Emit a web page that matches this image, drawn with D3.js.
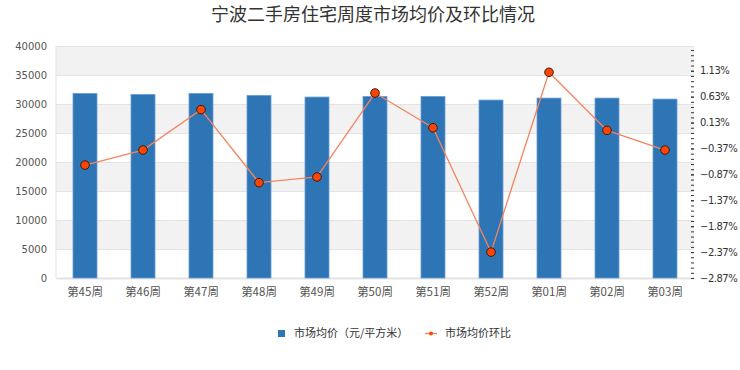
<!DOCTYPE html>
<html>
<head>
<meta charset="utf-8">
<script src="https://cdn.jsdelivr.net/npm/d3@7/dist/d3.min.js"></script>
<style>
  body { margin: 0; background: #fff; }
  svg { font-family: "Noto Sans CJK SC", "DejaVu Sans", sans-serif; }
</style>
</head>
<body>
<svg width="740" height="370"></svg>
<script>
// 周次
const weeks = ["第45周", "第46周", "第47周", "第48周", "第49周", "第50周", "第51周", "第52周", "第01周", "第02周", "第03周"];
// 市场均价 (元/平方米)
const prices = [31830, 31660, 31830, 31490, 31200, 31310, 31310, 30680, 31020, 31020, 30850];
// 市场均价环比 (%)
const changes = [-0.69, -0.40, 0.38, -1.03, -0.92, 0.70, 0.03, -2.37, 1.10, -0.02, -0.40];
// 右轴刻度
const rightTicks = [-2.87, -2.37, -1.87, -1.37, -0.87, -0.37, 0.13, 0.63, 1.13];
const leftTicks = [0, 5000, 10000, 15000, 20000, 25000, 30000, 35000, 40000];

function drawChart() {
    var margin = { top: 46, right: 46, bottom: 92, left: 56 };
    var width = 740 - margin.left - margin.right;
    var height = 370 - margin.top - margin.bottom;

    var svg = d3.select("svg");

    svg.append("text")
        .attr("x", 373)
        .attr("y", 21)
        .attr("text-anchor", "middle")
        .attr("font-size", 18)
        .attr("fill", "#333")
        .text("宁波二手房住宅周度市场均价及环比情况");

    var g = svg.append("g")
        .attr("transform", "translate(" + margin.left + "," + margin.top + ")");

    var x = d3.scaleBand().domain(weeks).range([0, width]);
    var y = d3.scaleLinear().domain([0, 40000]).range([height, 0]);
    var y2 = d3.scaleLinear().domain([-2.87, 1.608]).range([height, 0]);

    // 背景条纹
    for (let i = 0; i < leftTicks.length - 1; i++) {
        g.append("rect")
            .attr("x", 0)
            .attr("width", width)
            .attr("y", y(leftTicks[i + 1]))
            .attr("height", y(leftTicks[i]) - y(leftTicks[i + 1]))
            .attr("fill", i % 2 === 1 ? "#f2f2f2" : "#fff");
    }

    g.append("g")
        .call(d3.axisLeft(y).tickValues(leftTicks).tickSize(-width).tickPadding(9).tickFormat(d3.format("d")))
        .call(g => g.select(".domain").remove())
        .call(g => g.selectAll("line").attr("stroke", "#e3e3e3"))
        .call(g => g.selectAll("text").attr("fill", "#555").attr("font-size", 10).attr("font-family", "DejaVu Sans"));

    g.append("line").attr("x1", 0).attr("x2", 0).attr("y1", 0).attr("y2", height).attr("stroke", "#e3e3e3");

    g.append("g")
        .attr("transform", "translate(0," + height + ")")
        .call(d3.axisBottom(x).tickSize(0).tickPadding(10))
        .call(g => g.select(".domain").attr("stroke", "#e3e3e3").attr("stroke-width", 2))
        .call(g => g.selectAll("text").attr("fill", "#555").attr("font-size", 11.5).attr("font-family", "Noto Sans CJK SC"));

    // 右轴 (刻度朝内)
    var minor = d3.range(-2.87, 1.6, 0.1);
    g.append("g")
        .attr("transform", "translate(" + width + ",0)")
        .call(d3.axisRight(y2).tickValues(minor).tickSize(-3).tickFormat(""))
        .call(g => g.select(".domain").remove())
        .call(g => g.selectAll("line").attr("stroke", "#333"));
    g.append("g")
        .attr("transform", "translate(" + width + ",0)")
        .call(d3.axisRight(y2).tickValues(rightTicks).tickSize(-3).tickPadding(6).tickFormat(d => d3.format(".2f")(d) + "%"))
        .call(g => g.select(".domain").remove())
        .call(g => g.selectAll("line").attr("stroke", "#333"))
        .call(g => g.selectAll("text").attr("fill", "#333").attr("font-size", 10).attr("letter-spacing", "-0.5px").attr("font-family", "DejaVu Sans"));

    var bw = 24;
    g.selectAll(".bar")
        .data(prices)
        .enter().append("rect")
        .attr("x", (d, i) => x(weeks[i]) + x.bandwidth() / 2 - bw / 2)
        .attr("y", d => y(d))
        .attr("width", bw)
        .attr("height", d => height - y(d))
        .attr("fill", "#2e75b6")
        .attr("stroke", "#6b9fd3")
        .attr("stroke-width", 0.8);

    var line = d3.line()
        .x((d, i) => x(weeks[i]) + x.bandwidth() / 2)
        .y(d => y2(d));

    g.append("path")
        .datum(changes)
        .attr("fill", "none")
        .attr("stroke", "#f4845f")
        .attr("stroke-width", 1.3)
        .attr("d", line);

    g.selectAll(".dot")
        .data(changes)
        .enter().append("circle")
        .attr("cx", (d, i) => x(weeks[i]) + x.bandwidth() / 2)
        .attr("cy", d => y2(d))
        .attr("r", 4.3)
        .attr("fill", "#ff4500")
        .attr("stroke", "#3a1a10")
        .attr("stroke-width", 1);

    // 图例
    var lg = svg.append("g").attr("font-size", 11).attr("fill", "#333");
    lg.append("rect").attr("x", 278).attr("y", 330).attr("width", 7).attr("height", 7).attr("fill", "#2e75b6");
    lg.append("text").attr("x", 294).attr("y", 337).text("市场均价（元/平方米）");
    lg.append("line").attr("x1", 425).attr("x2", 437).attr("y1", 333.5).attr("y2", 333.5).attr("stroke", "#f4845f").attr("stroke-width", 1.3);
    lg.append("circle").attr("cx", 431).attr("cy", 333.5).attr("r", 2).attr("fill", "#ff4500");
    lg.append("text").attr("x", 445).attr("y", 337).text("市场均价环比");
}

drawChart();
</script>
</body>
</html>
